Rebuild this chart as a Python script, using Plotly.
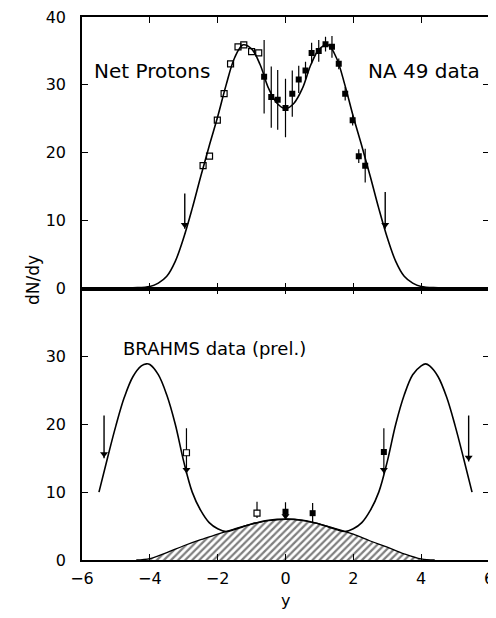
import plotly.graph_objects as go

# ---------------- data ----------------
# Top panel (NA49) model curve
top_curve_x = [-5.0, -4.5, -4.0, -3.75, -3.5, -3.25, -3.0, -2.75, -2.5, -2.25, -2.0, -1.75, -1.5, -1.25, -1.0, -0.75, -0.5, -0.25, 0.0,
               0.25, 0.5, 0.75, 1.0, 1.25, 1.5, 1.75, 2.0, 2.25, 2.5, 2.75, 3.0, 3.25, 3.5, 3.75, 4.0, 4.5, 5.0]
top_curve_y = [0.0, 0.1, 0.3, 0.8, 1.8, 4.0, 7.5, 11.8, 16.5, 21.0, 25.3, 30.0, 34.0, 35.9, 35.3, 33.0, 29.5, 27.3, 26.5,
               27.3, 29.5, 33.0, 35.3, 35.9, 34.0, 30.0, 25.3, 21.0, 16.5, 11.8, 7.5, 4.0, 1.8, 0.8, 0.3, 0.1, 0.0]

# NA49 reflected points (open squares)
na49_open_x = [-2.43, -2.24, -2.01, -1.81, -1.62, -1.40, -1.23, -1.00, -0.79]
na49_open_y = [18.1, 19.5, 24.8, 28.7, 33.1, 35.6, 35.9, 34.9, 34.7]

# NA49 measured points (filled squares)
na49_x = [-0.63, -0.42, -0.23, 0.0, 0.20, 0.39, 0.59, 0.77, 0.98, 1.18, 1.37, 1.57, 1.76, 1.98, 2.16, 2.35]
na49_y = [31.2, 28.2, 27.8, 26.6, 28.7, 30.8, 32.1, 34.7, 35.0, 36.0, 35.6, 33.1, 28.7, 24.8, 19.5, 18.1]
na49_err = [5.4, 4.5, 4.4, 4.3, 3.4, 2.0, 1.3, 1.5, 1.6, 1.1, 1.6, 0.8, 1.0, 0.8, 1.0, 2.5]

# Top arrows (x, start y, tip y)
top_arrow_x = [-2.97, 2.94]
top_arrow_y0 = [14.0, 14.2]
top_arrow_y1 = [8.8, 8.8]

# Bottom panel (BRAHMS) model curve
bot_curve_x = [-5.5, -5.25, -5.0, -4.75, -4.5, -4.25, -4.1, -4.0, -3.75, -3.5, -3.25, -3.0, -2.75, -2.5, -2.25, -2.0, -1.75, -1.5,
               -1.25, -1.0, -0.75, -0.5, -0.25, 0.0, 0.25, 0.5, 0.75, 1.0, 1.25, 1.5, 1.75, 2.0, 2.25, 2.5, 2.75, 3.0,
               3.25, 3.5, 3.75, 4.0, 4.13, 4.25, 4.5, 4.75, 5.0, 5.25, 5.5]
bot_curve_y = [10.0, 15.0, 19.8, 24.0, 27.0, 28.6, 28.9, 28.8, 27.3, 24.3, 20.0, 14.5, 10.0, 7.3, 5.5, 4.6, 4.2, 4.5,
               4.9, 5.3, 5.6, 5.85, 6.0, 6.05, 6.0, 5.85, 5.6, 5.3, 4.9, 4.5, 4.2, 4.6, 5.5, 7.3, 10.0, 14.5,
               20.0, 24.3, 27.3, 28.6, 28.9, 28.6, 27.0, 24.0, 19.8, 15.0, 10.0]

# Central (hatched) component
central_x = [-4.4, -4.0, -3.5, -3.0, -2.5, -2.0, -1.5, -1.0, -0.5, 0.0, 0.5, 1.0, 1.5, 2.0, 2.5, 3.0, 3.5, 4.0, 4.4]
central_y = [0.0, 0.2, 1.1, 2.1, 3.0, 3.8, 4.6, 5.3, 5.8, 6.0, 5.85, 5.3, 4.6, 3.8, 2.8, 1.9, 0.9, 0.15, 0.0]

# BRAHMS outer arrows (x, start y, tip y)
brahms_arrow_x = [-5.35, 5.40]
brahms_arrow_y0 = [21.3, 21.3]
brahms_arrow_y1 = [15.0, 14.5]

# BRAHMS points with arrows at y = +-2.9 and 0
brahms_mid_x = [-2.92, 2.90, 0.0]
brahms_mid_y0 = [19.4, 19.4, 8.5]
brahms_mid_y1 = [12.7, 12.7, 5.9]
brahms_open_x = [-2.92, -0.84]
brahms_open_y = [15.8, 6.9]
brahms_filled_x = [2.90, 0.0, 0.80]
brahms_filled_y = [15.9, 7.1, 6.9]
brahms_err_x = [-0.84, 0.80]
brahms_err_lo = [6.2, 5.4]
brahms_err_hi = [8.6, 8.4]

x_ticks = [-6, -4, -2, 0, 2, 4, 6]
top_y_ticks = [0, 10, 20, 30, 40]
bot_y_ticks = [0, 10, 20, 30]

# ---------------- figure ----------------
fig = go.Figure()
LW = 1.6
BLACK = "black"

# top panel
fig.add_trace(go.Scatter(x=top_curve_x, y=top_curve_y, mode="lines", line=dict(color=BLACK, width=LW, shape="spline"),
                         xaxis="x2", yaxis="y2"))
fig.add_trace(go.Scatter(x=na49_open_x, y=na49_open_y, mode="markers",
                         marker=dict(symbol="square-open", size=6, color=BLACK, line=dict(width=1.2)),
                         xaxis="x2", yaxis="y2"))
fig.add_trace(go.Scatter(x=na49_x, y=na49_y, mode="markers",
                         marker=dict(symbol="square", size=6, color=BLACK),
                         error_y=dict(type="data", array=na49_err, visible=True, width=0, thickness=1.2, color=BLACK),
                         xaxis="x2", yaxis="y2"))
for xa, ya0, ya1 in zip(top_arrow_x, top_arrow_y0, top_arrow_y1):
    fig.add_trace(go.Scatter(x=[xa, xa], y=[ya0, ya1], mode="lines", line=dict(color=BLACK, width=1.4),
                             xaxis="x2", yaxis="y2"))
fig.add_trace(go.Scatter(x=top_arrow_x, y=[v + 0.6 for v in top_arrow_y1], mode="markers",
                         marker=dict(symbol="triangle-down", size=7, color=BLACK),
                         xaxis="x2", yaxis="y2"))

# bottom panel
fig.add_trace(go.Scatter(x=central_x, y=central_y, mode="lines", line=dict(color=BLACK, width=1.3, shape="spline"),
                         fill="tozeroy", fillcolor="white",
                         fillpattern=dict(shape="/", fgcolor=BLACK, bgcolor="white", size=5, solidity=0.45),
                         xaxis="x", yaxis="y"))
fig.add_trace(go.Scatter(x=bot_curve_x, y=bot_curve_y, mode="lines", line=dict(color=BLACK, width=LW, shape="spline"),
                         xaxis="x", yaxis="y"))
for xa, ya0, ya1 in zip(brahms_arrow_x, brahms_arrow_y0, brahms_arrow_y1):
    fig.add_trace(go.Scatter(x=[xa, xa], y=[ya0, ya1], mode="lines", line=dict(color=BLACK, width=1.4),
                             xaxis="x", yaxis="y"))
for xa, ya0, ya1 in zip(brahms_mid_x, brahms_mid_y0, brahms_mid_y1):
    fig.add_trace(go.Scatter(x=[xa, xa], y=[ya0, ya1], mode="lines", line=dict(color=BLACK, width=1.2),
                             xaxis="x", yaxis="y"))
fig.add_trace(go.Scatter(x=brahms_arrow_x + brahms_mid_x, y=[v + 0.6 for v in brahms_arrow_y1 + brahms_mid_y1],
                         mode="markers", marker=dict(symbol="triangle-down", size=7, color=BLACK),
                         xaxis="x", yaxis="y"))
for xa, lo, hi in zip(brahms_err_x, brahms_err_lo, brahms_err_hi):
    fig.add_trace(go.Scatter(x=[xa, xa], y=[lo, hi], mode="lines", line=dict(color=BLACK, width=1.2),
                             xaxis="x", yaxis="y"))
fig.add_trace(go.Scatter(x=brahms_open_x, y=brahms_open_y, mode="markers",
                         marker=dict(symbol="square", size=6, color="white", line=dict(width=1.2, color=BLACK)),
                         xaxis="x", yaxis="y"))
fig.add_trace(go.Scatter(x=brahms_filled_x, y=brahms_filled_y, mode="markers",
                         marker=dict(symbol="square", size=6, color=BLACK),
                         xaxis="x", yaxis="y"))

FONT = "DejaVu Sans"
axis_common = dict(showline=True, linecolor=BLACK, linewidth=1.5, mirror="ticks", ticks="inside", ticklen=6,
                   tickwidth=1.3, tickcolor=BLACK, showgrid=False, zeroline=False, automargin=False,
                   ticklabeloverflow="allow",
                   tickfont=dict(family=FONT, size=16, color=BLACK))

# the page body adds an 8 px margin all round, so the figure is sized to fit inside it without scrollbars
fig.update_layout(
    width=488, height=602,
    margin=dict(l=74, r=7, t=9, b=50),
    paper_bgcolor="white", plot_bgcolor="white",
    showlegend=False,
    xaxis=dict(range=[-6, 6], tickvals=x_ticks, anchor="y", domain=[0, 1], ticklabelstandoff=3, **axis_common),
    yaxis=dict(range=[0, 40], tickvals=bot_y_ticks, anchor="x", domain=[0, 0.5], ticklabelstandoff=11, **axis_common),
    xaxis2=dict(range=[-6, 6], tickvals=x_ticks, anchor="y2", matches="x", showticklabels=False, **axis_common),
    yaxis2=dict(range=[0, 40], tickvals=top_y_ticks, anchor="x2", domain=[0.5, 1], ticklabelstandoff=11, **axis_common),
    annotations=[
        dict(text="Net Protons", xref="x2", yref="y2", x=-5.7, y=32.0, xanchor="left", yanchor="middle",
             showarrow=False, font=dict(family=FONT, size=20, color=BLACK)),
        dict(text="NA 49 data", xref="x2", yref="y2", x=5.8, y=32.0, xanchor="right", yanchor="middle",
             showarrow=False, font=dict(family=FONT, size=20, color=BLACK)),
        dict(text="BRAHMS data (prel.)", xref="x", yref="y", x=-4.85, y=31.2, xanchor="left", yanchor="middle",
             showarrow=False, font=dict(family=FONT, size=18, color=BLACK)),
        dict(text="dN/dy", xref="paper", yref="paper", x=-0.12, y=0.516, xanchor="center", yanchor="middle",
             textangle=-90, showarrow=False, font=dict(family=FONT, size=17, color=BLACK)),
        dict(text="y", xref="paper", yref="paper", x=0.5, y=-0.0535, xanchor="center", yanchor="top",
             showarrow=False, font=dict(family=FONT, size=16, color=BLACK)),
    ],
)

fig.write_html("out.html")
